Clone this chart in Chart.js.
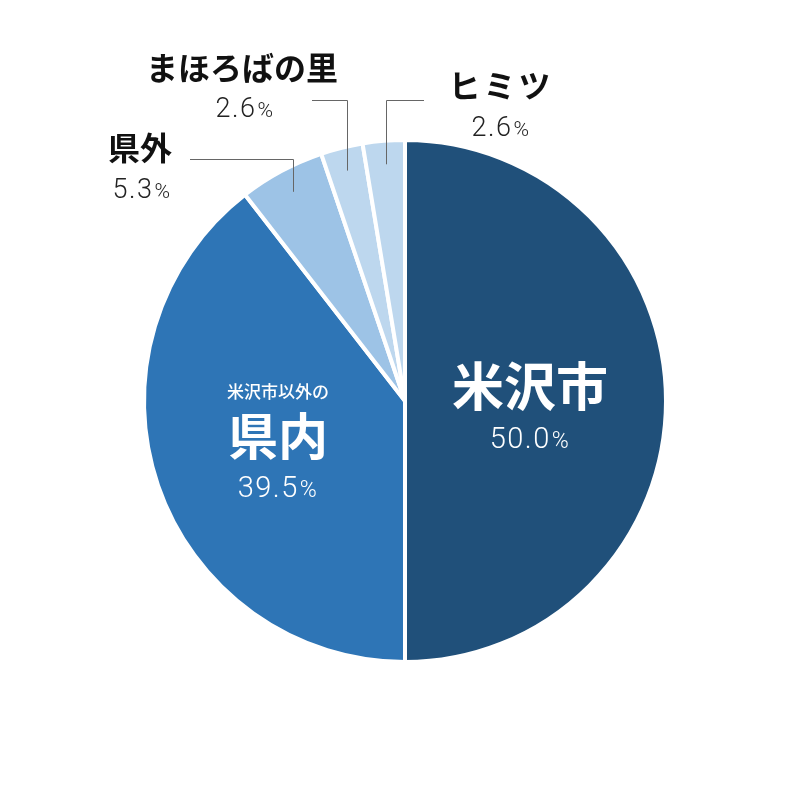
<!DOCTYPE html>
<html>
<head>
<meta charset="utf-8">
<script src="https://cdn.jsdelivr.net/npm/chart.js@4"></script>
<style>
  html, body { margin: 0; padding: 0; background: #fff; }
  #wrap { width: 800px; height: 800px; }
</style>
</head>
<body>
<div id="wrap"><canvas id="myChart" width="800" height="800"></canvas></div>
<script>
// data
const labels = ["米沢市", "県内", "県外", "まほろばの里", "ヒミツ"];
const values = [50.0, 39.5, 5.3, 2.6, 2.6];
const colors = ["#20507a", "#2e75b6", "#9dc3e6", "#bdd7ee", "#bdd7ee"];

const JP = '"Noto Sans CJK JP", "Noto Sans", sans-serif';
const NUM = 'Roboto, "Noto Sans", sans-serif';

// label placement (layout only)
const inside = {
  0: { x: 530, y: 386, size: 52, pctY: 438 },
  1: { x: 278, y: 436, size: 50, pctY: 487, sub: "米沢市以外の", subY: 392 },
};
const outside = {
  2: { x: 140, y: 148, pctX: 142, pctY: 188, lineY: 159, lineX: 190 },
  3: { x: 242, y: 68, pctX: 245, pctY: 107, lineY: 100, lineX: 312 },
  4: { x: 501, y: 86, pctX: 501, pctY: 126, lineY: 100, lineX: 424 },
};

function drawPct(ctx, value, cx, cy, size, color) {
  const num = value.toFixed(1);
  const pSize = Math.round(size * 0.78);
  ctx.letterSpacing = "1.5px";
  ctx.font = "300 " + size + "px " + NUM;
  const w1 = ctx.measureText(num).width;
  ctx.font = "300 " + pSize + "px " + NUM;
  const w2 = ctx.measureText("%").width;
  const x0 = cx - (w1 + w2 + 1) / 2;
  ctx.fillStyle = color;
  ctx.textAlign = "left";
  ctx.textBaseline = "alphabetic";
  const base = cy + size * 0.36;
  ctx.font = "300 " + size + "px " + NUM;
  ctx.fillText(num, x0, base);
  ctx.font = "300 " + pSize + "px " + NUM;
  ctx.fillText("%", x0 + w1 + 1, base);
  ctx.letterSpacing = "0px";
}

const labelPlugin = {
  id: "labelPlugin",
  afterDraw(chart) {
    const ctx = chart.ctx;
    const meta = chart.getDatasetMeta(0);
    ctx.save();
    meta.data.forEach((arc, i) => {
      const p = arc.getProps(["x", "y", "startAngle", "endAngle", "outerRadius"], true);
      if (inside[i]) {
        const o = inside[i];
        ctx.fillStyle = "#fff";
        ctx.textAlign = "center";
        ctx.textBaseline = "middle";
        if (o.sub) {
          ctx.font = "500 17px " + JP;
          ctx.fillText(o.sub, o.x, o.subY);
        }
        ctx.font = "bold " + o.size + "px " + JP;
        ctx.fillText(labels[i], o.x, o.y);
        drawPct(ctx, values[i], o.x, o.pctY, 29, "#fff");
      } else if (outside[i]) {
        const o = outside[i];
        const mid = (p.startAngle + p.endAngle) / 2;
        const r = p.outerRadius * 0.91;
        const ax = p.x + Math.cos(mid) * r;
        const ay = p.y + Math.sin(mid) * r;
        ctx.strokeStyle = "#666";
        ctx.lineWidth = 1;
        ctx.beginPath();
        ctx.moveTo(Math.round(ax) + 0.5, ay);
        ctx.lineTo(Math.round(ax) + 0.5, o.lineY + 0.5);
        ctx.lineTo(o.lineX, o.lineY + 0.5);
        ctx.stroke();
        ctx.fillStyle = "#111";
        ctx.textAlign = "center";
        ctx.textBaseline = "middle";
        ctx.font = "bold 32px " + JP;
        if (i === 4) ctx.letterSpacing = "3px";
        ctx.fillText(labels[i], o.x, o.y);
        ctx.letterSpacing = "0px";
        drawPct(ctx, values[i], o.pctX, o.pctY, 27, "#222");
      }
    });
    ctx.restore();
  },
};

new Chart(document.getElementById("myChart"), {
  type: "pie",
  data: {
    labels: labels,
    datasets: [
      {
        data: values,
        backgroundColor: colors,
        borderColor: "#fff",
        borderWidth: 4,
        radius: 261,
      },
    ],
  },
  options: {
    responsive: false,
    animation: false,
    layout: { padding: { left: 10, right: 0, top: 2, bottom: 0 } },
    plugins: {
      legend: { display: false },
      tooltip: { enabled: false },
    },
  },
  plugins: [labelPlugin],
});
</script>
</body>
</html>
